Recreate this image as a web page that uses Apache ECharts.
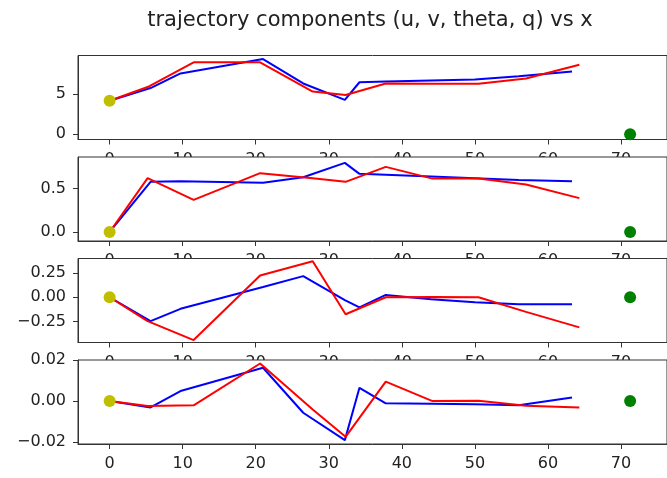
<!DOCTYPE html>
<html>
<head>
<meta charset="utf-8">
<script src="https://cdn.jsdelivr.net/npm/echarts@6/dist/echarts.min.js"></script>
<style>
  html, body { margin: 0; padding: 0; background: #fff; }
  #chart { width: 667px; height: 478px; }
</style>
</head>
<body>
<div id="chart"></div>
<script>
// x positions of the two trajectories
var xBlue = [0, 5.6, 9.7, 21, 26.5, 32.2, 34.2, 37.8, 44, 50, 56, 63.3];
var xRed = [0, 5.2, 11.5, 20.6, 27.8, 32.3, 37.8, 44.2, 50.5, 57, 64.3];

// u, v, theta, q  (blue / red)
var uBlue = [4.19, 5.77, 7.6, 9.4, 6.35, 4.29, 6.5, 6.58, 6.71, 6.84, 7.26, 7.86];
var uRed = [4.19, 5.9, 9.0, 9.0, 5.33, 4.91, 6.35, 6.32, 6.32, 6.97, 8.7];
var vBlue = [0, 0.578, 0.585, 0.567, 0.63, 0.796, 0.67, 0.66, 0.64, 0.62, 0.60, 0.585];
var vRed = [0, 0.62, 0.37, 0.678, 0.62, 0.578, 0.75, 0.615, 0.615, 0.548, 0.39];
var thetaBlue = [0, -0.245, -0.119, 0.105, 0.217, -0.029, -0.105, 0.024, -0.021, -0.052, -0.073, -0.073];
var thetaRed = [0, -0.245, -0.44, 0.224, 0.37, -0.175, 0, 0.002, 0, -0.15, -0.31];
var qBlue = [0, -0.0031, 0.0049, 0.0163, -0.0057, -0.0191, 0.0065, -0.0011, -0.0013, -0.0015, -0.002, 0.0018];
var qRed = [0, -0.0024, -0.0021, 0.0184, -0.0041, -0.0175, 0.0095, 0, 0.0002, -0.0023, -0.0031];

// start (yellow) and goal (green) markers
var startX = 0;
var startVals = [4.19, 0, 0, 0];
var goalX = 71.25;
var goalVals = [0, 0, 0, 0];

// tick labels
var xTicks = [0, 10, 20, 30, 40, 50, 60, 70];
var yTicks = [[0, 5], [0, 0.5], [-0.25, 0, 0.25], [-0.02, 0, 0.02]];
var yDecimals = [0, 1, 2, 2];
var xRange = [-4.33, 76.3];
var yRanges = [[-0.67, 9.85], [-0.104, 0.864], [-0.465, 0.398], [-0.021, 0.0201]];

var tops = [55.5, 157, 258.5, 360];
var font = 'DejaVu Sans';
var textColor = '#222';
var frameColor = '#333';

function pairs(xs, ys) {
  var out = [];
  for (var i = 0; i < ys.length; i++) out.push([xs[i], ys[i]]);
  return out;
}

function fmtY(decimals) {
  return function (v) {
    var s = Math.abs(v).toFixed(decimals);
    return v < 0 ? '\u2212' + s : s;
  };
}

var chart = echarts.init(document.getElementById('chart'), null, { renderer: 'canvas' });

var blues = [uBlue, vBlue, thetaBlue, qBlue];
var reds = [uRed, vRed, thetaRed, qRed];
var grids = [], xAxes = [], yAxes = [], series = [];

// each lower panel sits above the previous one, so it hides most of the x labels above it
for (var k = 0; k < 4; k++) {
  grids.push({
    left: 78, right: -13, top: tops[k], height: 84,
    show: true, backgroundColor: '#fff',
    borderColor: frameColor, borderWidth: 1,
    z: 3 * k
  });
  // axis lines keep to the panel edge: they point at a hidden axis (index 4+k) that never crosses zero
  xAxes.push({
    gridIndex: k, type: 'value', min: xRange[0], max: xRange[1], z: 3 * k + 1,
    splitLine: { show: false },
    axisLine: { show: true, onZero: true, onZeroAxisIndex: 4 + k, lineStyle: { color: frameColor, width: 1 } },
    axisTick: { show: true, inside: false, length: 5, customValues: xTicks, lineStyle: { color: frameColor } },
    axisLabel: { show: true, margin: 12, customValues: xTicks, color: textColor, fontFamily: font, fontSize: 16 }
  });
  yAxes.push({
    gridIndex: k, type: 'value', min: yRanges[k][0], max: yRanges[k][1], z: 3 * k + 1,
    splitLine: { show: false },
    axisLine: { show: true, onZero: true, onZeroAxisIndex: 4 + k, lineStyle: { color: frameColor, width: 1 } },
    axisTick: { show: true, inside: false, length: 5, customValues: yTicks[k], lineStyle: { color: frameColor } },
    axisLabel: { show: true, margin: 12, customValues: yTicks[k], formatter: fmtY(yDecimals[k]),
      color: textColor, fontFamily: font, fontSize: 16 }
  });
  series.push({
    type: 'scatter', xAxisIndex: k, yAxisIndex: k, z: 3 * k + 2,
    symbolSize: 12, itemStyle: { color: '#bfbf00', opacity: 1 },
    data: [[startX, startVals[k]]]
  });
  series.push({
    type: 'scatter', xAxisIndex: k, yAxisIndex: k, z: 3 * k + 2,
    symbolSize: 12, itemStyle: { color: '#008000', opacity: 1 },
    data: [[goalX, goalVals[k]]]
  });
  series.push({
    type: 'line', xAxisIndex: k, yAxisIndex: k, z: 3 * k + 2,
    showSymbol: false, lineStyle: { color: '#0000ff', width: 2 },
    data: pairs(xBlue, blues[k])
  });
  series.push({
    type: 'line', xAxisIndex: k, yAxisIndex: k, z: 3 * k + 2,
    showSymbol: false, lineStyle: { color: '#ff0000', width: 2 },
    data: pairs(xRed, reds[k])
  });
}

// hidden helper axes, one pair per panel, range 1..2 so zero is never inside
for (var j = 0; j < 4; j++) {
  xAxes.push({ gridIndex: j, type: 'value', min: 1, max: 2, show: false, position: 'top' });
  yAxes.push({ gridIndex: j, type: 'value', min: 1, max: 2, show: false, position: 'right' });
}

chart.setOption({
  animation: false,
  backgroundColor: '#fff',
  title: {
    text: 'trajectory components (u, v, theta, q) vs x',
    left: 365, top: 5, textAlign: 'center',
    textStyle: { fontFamily: font, fontSize: 21, fontWeight: 'normal', color: textColor }
  },
  grid: grids,
  xAxis: xAxes,
  yAxis: yAxes,
  series: series
});
</script>
</body>
</html>
